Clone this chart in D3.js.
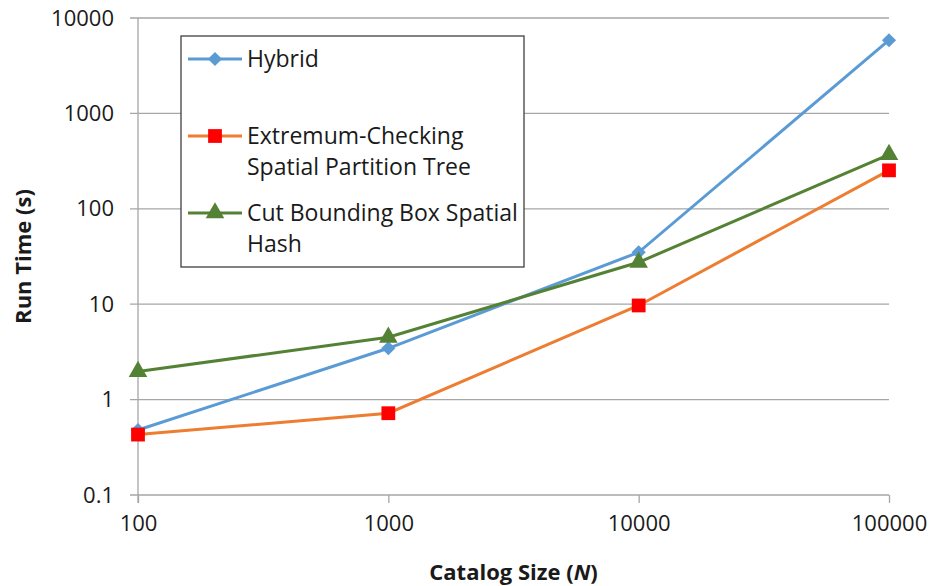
<!DOCTYPE html>
<html lang="en">
<head>
    <meta charset="UTF-8">
    <title>Run time vs catalog size</title>
    <script src="https://d3js.org/d3.v7.min.js"></script>
    <style>
        body { margin: 0; background: #fff; }
        text { font-family: "Open Sans", "Noto Sans", sans-serif; fill: #1a1a1a; }
    </style>
</head>
<body>
    <div class="canvas"></div>
    <script>
      // catalog sizes (x) and run times in seconds (y)
      const catalogSizes = [100, 1000, 10000, 100000];
      const hybrid = [0.48, 3.45, 35, 5850];
      const extremumTree = [0.43, 0.72, 9.7, 253];
      const cutBoxHash = [1.97, 4.5, 27.5, 370];
      const yTicks = [0.1, 1, 10, 100, 1000, 10000];
      const xTicks = [100, 1000, 10000, 100000];

      const series = [
        { name: ['Hybrid'], values: hybrid, line: '#5b9bd5', marker: '#5b9bd5', shape: 'diamond' },
        { name: ['Extremum-Checking', 'Spatial Partition Tree'], values: extremumTree, line: '#ed7d31', marker: '#ff0000', shape: 'square' },
        { name: ['Cut Bounding Box Spatial', 'Hash'], values: cutBoxHash, line: '#548235', marker: '#548235', shape: 'triangle' }
      ];

      const width = 932;
      const height = 586;
      const [mt, mr, mb, ml] = [18, 43, 91, 138];
      const graphWidth = width - ml - mr;
      const graphHeight = height - mt - mb;

      const svg = d3.select('.canvas')
                      .append('svg')
                      .attr('width', width)
                      .attr('height', height);

      const graph = svg.append('g')
                        .attr('transform', `translate(${ml}, ${mt})`);

      const x = d3.scaleLog()
                    .domain([100, 100000])
                    .range([0, graphWidth]);

      const y = d3.scaleLog()
                    .domain([0.1, 10000])
                    .range([graphHeight, 0]);

      // horizontal gridlines
      graph.append('g')
        .selectAll('line')
        .data(yTicks)
        .enter()
        .append('line')
        .attr('x1', -8)
        .attr('x2', graphWidth)
        .attr('y1', d => y(d))
        .attr('y2', d => y(d))
        .attr('stroke', '#a6a6a6')
        .attr('stroke-width', 1.3);

      const yAxis = d3.axisLeft(y)
                        .tickValues(yTicks)
                        .tickFormat(d => d3.format('~g')(d))
                        .tickSize(0)
                        .tickPadding(24);

      const xAxis = d3.axisBottom(x)
                        .tickValues(xTicks)
                        .tickFormat(d => d)
                        .tickSize(8)
                        .tickPadding(12);

      const yAxisG = graph.append('g').call(yAxis);
      const xAxisG = graph.append('g')
                            .attr('transform', `translate(0, ${graphHeight})`)
                            .call(xAxis);

      [yAxisG, xAxisG].forEach(g => {
        g.select('.domain').remove();
        g.selectAll('line').attr('stroke', '#a6a6a6').attr('stroke-width', 1.3);
        g.selectAll('text')
          .style('font-family', '"Open Sans", sans-serif')
          .style('font-size', '22px')
          .attr('fill', '#1a1a1a');
      });

      // y axis line (runs down to the x tick length)
      graph.append('line')
        .attr('x1', 0).attr('x2', 0)
        .attr('y1', 0).attr('y2', graphHeight + 8)
        .attr('stroke', '#a6a6a6')
        .attr('stroke-width', 1.3);

      // diamond = square turned 45 degrees
      const symbolType = { diamond: d3.symbolSquare, square: d3.symbolSquare, triangle: d3.symbolTriangle };
      const symbolSize = { diamond: 100, square: 190, triangle: 150 };
      const symbolTurn = { diamond: 45, square: 0, triangle: 0 };

      const line = d3.line()
                      .x((d, i) => x(catalogSizes[i]))
                      .y(d => y(d));

      series.forEach(s => {
        graph.append('path')
          .attr('fill', 'none')
          .attr('stroke', s.line)
          .attr('stroke-width', 3)
          .attr('d', line(s.values));

        graph.selectAll(null)
          .data(s.values)
          .enter()
          .append('path')
          .attr('transform', (d, i) => `translate(${x(catalogSizes[i])}, ${y(d)}) rotate(${symbolTurn[s.shape]})`)
          .attr('d', d3.symbol().type(symbolType[s.shape]).size(symbolSize[s.shape]))
          .attr('fill', s.marker);
      });

      // legend
      const legend = svg.append('g').attr('transform', 'translate(181, 36)');
      legend.append('rect')
        .attr('width', 343)
        .attr('height', 231)
        .attr('fill', '#fff')
        .attr('stroke', '#404040')
        .attr('stroke-width', 1.3);

      const legendRows = [23, 100, 177];
      series.forEach((s, i) => {
        const row = legend.append('g').attr('transform', `translate(0, ${legendRows[i]})`);
        row.append('line')
          .attr('x1', 7).attr('x2', 61)
          .attr('stroke', s.line)
          .attr('stroke-width', 3);
        row.append('path')
          .attr('transform', `translate(34, 0) rotate(${symbolTurn[s.shape]})`)
          .attr('d', d3.symbol().type(symbolType[s.shape]).size(symbolSize[s.shape]))
          .attr('fill', s.marker);
        row.selectAll('text')
          .data(s.name)
          .enter()
          .append('text')
          .attr('x', 66)
          .attr('y', (d, j) => 8 + j * 31)
          .style('font-size', '23px')
          .text(d => d);
      });

      // axis titles
      svg.append('text')
        .attr('transform', `translate(31, ${mt + graphHeight / 2}) rotate(-90)`)
        .attr('text-anchor', 'middle')
        .style('font-size', '22px')
        .style('font-weight', 'bold')
        .text('Run Time (s)');

      const xTitle = svg.append('text')
        .attr('x', ml + graphWidth / 2)
        .attr('y', 580)
        .attr('text-anchor', 'middle')
        .style('font-size', '22px')
        .style('font-weight', 'bold');
      xTitle.append('tspan').text('Catalog Size (');
      xTitle.append('tspan').style('font-style', 'italic').text('N');
      xTitle.append('tspan').text(')');
    </script>
</body>
</html>
